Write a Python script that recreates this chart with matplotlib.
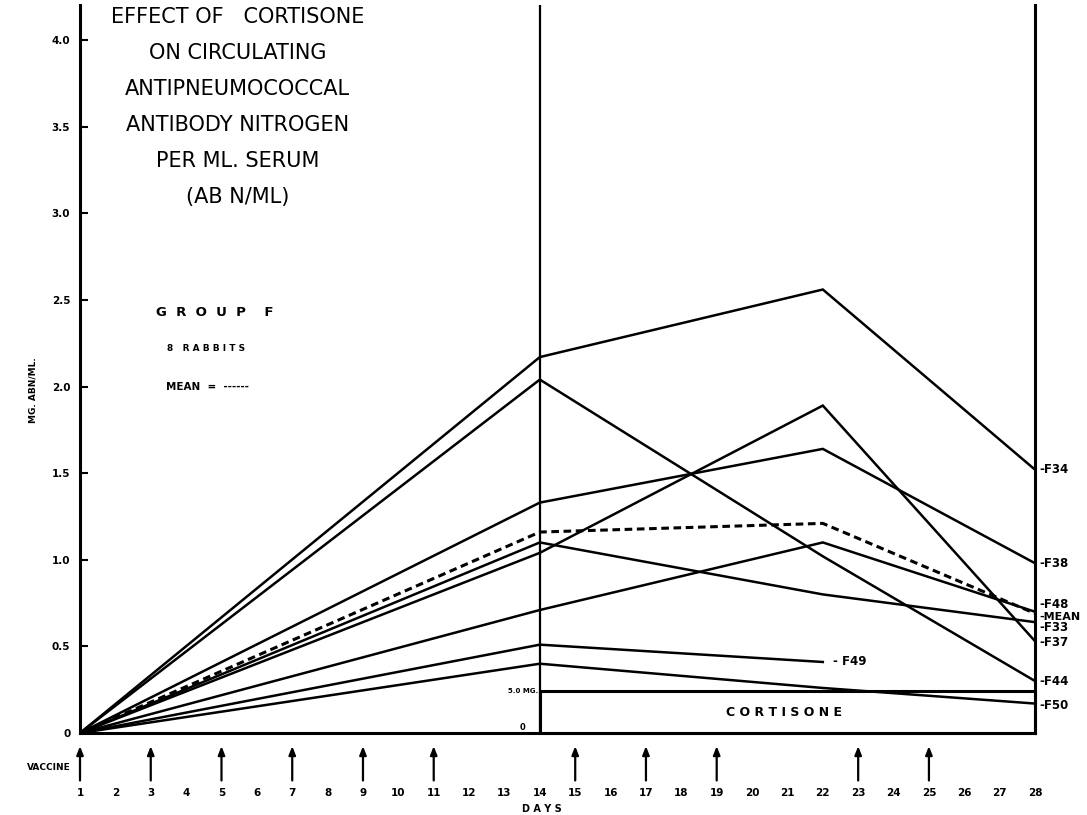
import numpy as np
import matplotlib.pyplot as plt
from matplotlib.patches import Rectangle

# days sampled for each rabbit (day 1 = first vaccine)
days = [1, 14, 22, 28]

# mg antibody N per ml serum
f34 = [0, 2.17, 2.56, 1.52]
f44 = [0, 2.04, 1.02, 0.30]
f38 = [0, 1.33, 1.64, 0.98]
f33 = [0, 1.10, 0.80, 0.64]
f37 = [0, 1.04, 1.89, 0.53]
f48 = [0, 0.71, 1.10, 0.70]
f49 = [0, 0.51, 0.41]          # no day 28 value
f50 = [0, 0.40, 0.26, 0.17]
mean = [0, 1.16, 1.21, 0.69]

right_labels = ['F34', 'F38', 'F48', 'MEAN', 'F33', 'F37', 'F44', 'F50']
right_label_y = [1.52, 0.98, 0.74, 0.67, 0.61, 0.52, 0.30, 0.16]

vaccine_days = [1, 3, 5, 7, 9, 11, 15, 17, 19, 23, 25]
day_ticks = list(range(1, 29))
y_ticks = [0, 0.5, 1.0, 1.5, 2.0, 2.5, 3.0, 3.5, 4.0]
y_tick_labels = ['0', '0.5', '1.0', '1.5', '2.0', '2.5', '3.0', '3.5', '4.0']

cortisone_start, cortisone_end, cortisone_top = 14, 28, 0.24

fig = plt.figure(figsize=(10.87, 8.15), dpi=100)
ax = fig.add_axes([0.0736, 0.1006, 0.8786, 0.8928])
ax.set_xlim(1, 28)
ax.set_ylim(0, 4.2)

lw = 1.8
for vals in [f34, f44, f38, f33, f37, f48, f50]:
    ax.plot(days, vals, color='black', lw=lw, solid_joinstyle='miter')
ax.plot(days[:3], f49, color='black', lw=lw)
ax.plot(days, mean, color='black', lw=2.2, linestyle=(0, (2.5, 1.5)))

# vertical line at day 14
ax.axvline(14, color='black', lw=1.6)

# cortisone box
ax.add_patch(Rectangle((cortisone_start, 0), cortisone_end - cortisone_start, cortisone_top,
                       fill=False, edgecolor='black', lw=2.2, clip_on=False))
ax.text(20.9, cortisone_top / 2, 'C O R T I S O N E', ha='center', va='center',
        fontsize=9, fontweight='bold')
ax.text(13.95, cortisone_top, '5.0 MG.', ha='right', va='center', fontsize=5, fontweight='bold')
ax.text(13.5, 0.03, '0', ha='center', va='center', fontsize=6, fontweight='bold')

# spines
ax.spines['top'].set_visible(False)
for s in ['left', 'bottom', 'right']:
    ax.spines[s].set_linewidth(2.2)

ax.set_yticks(y_ticks)
ax.set_yticklabels(y_tick_labels, fontsize=7.5, fontweight='bold')
ax.tick_params(axis='y', direction='in', length=6, width=1.5, pad=7)
ax.set_xticks([])
ax.text(-0.33, 1.98, 'MG. ABN/ML.', rotation=90, ha='center', va='center',
        fontsize=6.5, fontweight='bold')

# day numbers and vaccine arrows under the axis
for d in day_ticks:
    ax.text(d, -0.345, str(d), ha='center', va='center', fontsize=7.5, fontweight='bold',
            clip_on=False)
for d in vaccine_days:
    ax.annotate('', xy=(d, -0.06), xytext=(d, -0.29), annotation_clip=False,
                arrowprops=dict(arrowstyle='-|>,head_length=0.5,head_width=0.2',
                                color='black', lw=1.6))
ax.text(0.75, -0.2, 'VACCINE', ha='right', va='center', fontsize=6.5, fontweight='bold')
ax.text(14.05, -0.44, 'D A Y S', ha='center', va='center', fontsize=7, fontweight='bold')

# labels at the right end of each line
for lab, yv in zip(right_labels, right_label_y):
    fs = 8 if lab == 'MEAN' else 8.5
    ax.text(28.12, yv, '-' + lab, ha='left', va='center', fontsize=fs, fontweight='bold',
            clip_on=False)
ax.text(22.3, f49[-1], '- F49', ha='left', va='center', fontsize=8.5, fontweight='bold')

# title block
ax.text(5.45, 4.19,
        'EFFECT OF   CORTISONE\nON CIRCULATING\nANTIPNEUMOCOCCAL\nANTIBODY NITROGEN\n'
        'PER ML. SERUM\n(AB N/ML)',
        ha='center', va='top', fontsize=15, linespacing=2.0, multialignment='center')

ax.text(4.82, 2.43, 'G  R  O  U  P    F', ha='center', va='center', fontsize=9.5,
        fontweight='bold')
ax.text(4.55, 2.22, '8   R A B B I T S', ha='center', va='center', fontsize=6.5,
        fontweight='bold')
ax.text(4.6, 2.0, 'MEAN  =  ------', ha='center', va='center', fontsize=7.5, fontweight='bold')

fig.savefig('out.png', dpi=100)
